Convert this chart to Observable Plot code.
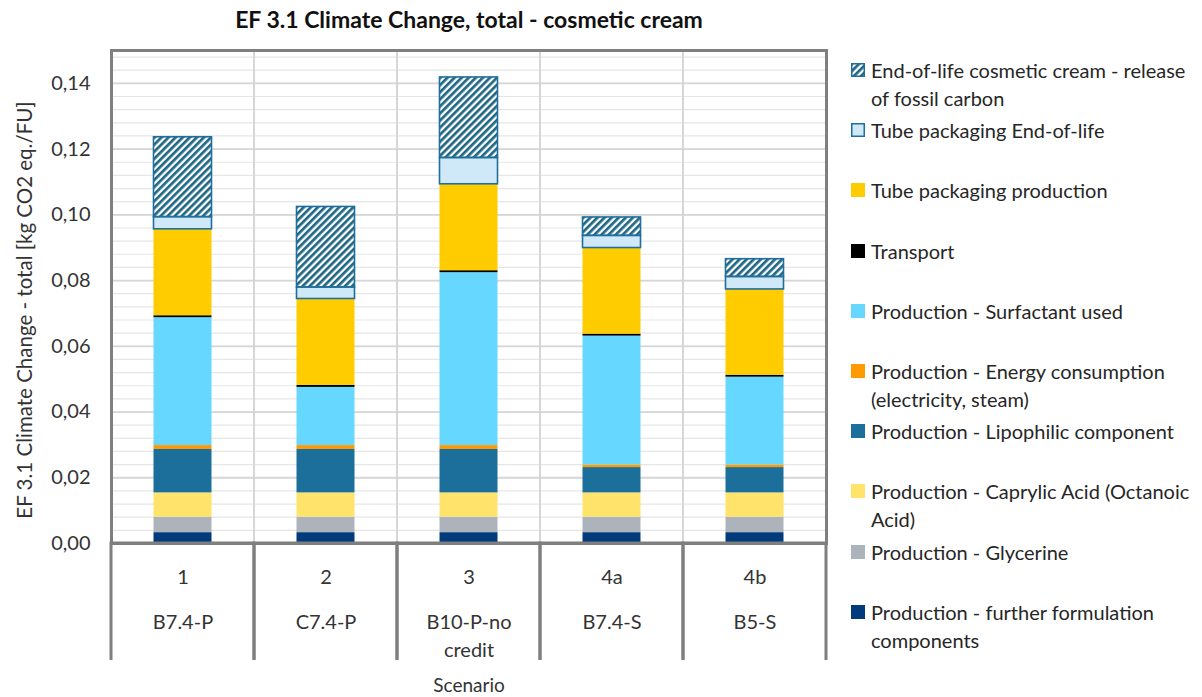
<!DOCTYPE html>
<html>
<head>
<meta charset="utf-8">
<script src="https://cdn.jsdelivr.net/npm/d3@7"></script>
<script src="https://cdn.jsdelivr.net/npm/@observablehq/plot@0.6"></script>
<style>
  body { margin: 0; background: #fff; }
  #wrap { position: relative; width: 1202px; height: 697px; font-family: Lato, "Open Sans", sans-serif; }
  #legend { position: absolute; left: 851px; top: 56px; width: 350px; }
  .item { height: 60.2px; display: flex; align-items: flex-start; }
  .item svg { flex: none; margin-top: 7px; margin-right: 6px; }
  .item span { font-size: 20px; line-height: 28px; color: #262626; white-space: pre; }
</style>
</head>
<body>
<div id="wrap"><div id="chart"></div><div id="legend"></div></div>
<script>
// ---- data ----
const scenarios = ["1", "2", "3", "4a", "4b"];
const scenarioNames = ["B7.4-P", "C7.4-P", "B10-P-no\ncredit", "B7.4-S", "B5-S"];

// stacking order: bottom first
const components = [
  "Production - further formulation components",
  "Production - Glycerine",
  "Production - Caprylic Acid (Octanoic Acid)",
  "Production - Lipophilic component",
  "Production - Energy consumption (electricity, steam)",
  "Production - Surfactant used",
  "Transport",
  "Tube packaging production",
  "Tube packaging End-of-life",
  "End-of-life cosmetic cream - release of fossil carbon"
];
const colors = ["#013b7b", "#adb3bb", "#ffe36b", "#1b6f9a", "#ff9a00", "#66d7ff", "#000000", "#ffcc00", "#cfe9f8", "url(#hatch)"];

const further     = [0.0033, 0.0033, 0.0033, 0.0033, 0.0033];
const glycerine   = [0.0047, 0.0047, 0.0047, 0.0047, 0.0047];
const caprylic    = [0.0074, 0.0074, 0.0074, 0.0074, 0.0074];
const lipophilic  = [0.0132, 0.0132, 0.0132, 0.0077, 0.0077];
const energy      = [0.0012, 0.0012, 0.0012, 0.0008, 0.0008];
const surfactant  = [0.0389, 0.0177, 0.0526, 0.0392, 0.0267];
const transport   = [0.0006, 0.0006, 0.0006, 0.0006, 0.0006];
const tubeProd    = [0.0263, 0.0263, 0.0263, 0.0262, 0.0261];
const tubeEol     = [0.0037, 0.0035, 0.0080, 0.0037, 0.0038];
const creamEol    = [0.0243, 0.0245, 0.0245, 0.0056, 0.0054];
const series = [further, glycerine, caprylic, lipophilic, energy, surfactant, transport, tubeProd, tubeEol, creamEol];

// legend (top first)
const legendLabels = [
  "End-of-life cosmetic cream - release\nof fossil carbon",
  "Tube packaging End-of-life",
  "Tube packaging production",
  "Transport",
  "Production - Surfactant used",
  "Production - Energy consumption\n(electricity, steam)",
  "Production - Lipophilic component",
  "Production - Caprylic Acid (Octanoic\nAcid)",
  "Production - Glycerine",
  "Production - further formulation\ncomponents"
];

const yTicks = [0, 0.02, 0.04, 0.06, 0.08, 0.10, 0.12, 0.14];
const title = "EF 3.1 Climate Change, total - cosmetic cream";
const yLabel = "EF 3.1 Climate Change - total [kg CO2 eq./FU]";
const xLabel = "Scenario";

// ---- build ----
const data = [];
components.forEach((c, j) => scenarios.forEach((s, i) => data.push({scenario: s, component: c, value: series[j][i]})));
const outlined = new Set([components[8], components[9]]);
const minorGrid = d3.range(0.004, 0.1495, 0.004);
const fmt = v => d3.format(".2f")(v).replace(".", ",");

const defs = () => {
  const g = d3.create("svg:g");
  const p = g.append("defs").append("pattern")
    .attr("id", "hatch").attr("patternUnits", "userSpaceOnUse")
    .attr("width", 5).attr("height", 5).attr("patternTransform", "rotate(45)");
  p.append("rect").attr("width", 5).attr("height", 5).attr("fill", "#ffffff");
  p.append("rect").attr("width", 2.7).attr("height", 5).attr("fill", "#1f6786");
  return g.node();
};

const chart = Plot.plot({
  width: 1202,
  height: 697,
  marginLeft: 111,
  marginRight: 376,
  marginTop: 50,
  marginBottom: 154,
  style: {fontFamily: "Lato, 'Open Sans', sans-serif", fontSize: "20px", color: "#333", background: "#fff"},
  x: {domain: scenarios, padding: 0, axis: null},
  y: {domain: [0, 0.15], axis: null},
  color: {domain: components, range: colors},
  marks: [
    defs,
    Plot.ruleY(minorGrid, {stroke: "#e6e6e6", strokeWidth: 1.2}),
    Plot.ruleY(yTicks, {stroke: "#d6d6d6", strokeWidth: 1.8}),
    Plot.barY(scenarios, {x: d => d, y1: 0, y2: 0.15, fill: "none", stroke: "#d4d4d4", strokeWidth: 1.5}),
    Plot.barY(data, Plot.stackY({x: "scenario", y: "value", z: "component", fill: "component", insetLeft: 42.5, insetRight: 42.5})),
    Plot.barY(data, Plot.stackY({x: "scenario", y: "value", z: "component", fill: "none", stroke: "#1f6e9c",
      strokeWidth: d => outlined.has(d.component) ? 1.6 : 0, insetLeft: 42.5, insetRight: 42.5})),
    Plot.frame({stroke: "#7f7f7f", strokeWidth: 3}),
    Plot.barY(scenarios, {x: d => d, y1: 0, y2: 0, insetBottom: -117, fill: "none", stroke: "#7f7f7f", strokeWidth: 3, strokeDasharray: "260,143,117"}),
    Plot.axisY({ticks: yTicks, tickFormat: fmt, tickSize: 0, tickPadding: 21, label: null, fontSize: 20, fill: "#333"}),
    Plot.text(scenarios, {x: d => d, frameAnchor: "bottom", lineAnchor: "middle", text: d => d, dy: 34, fontSize: 20, fill: "#333"}),
    Plot.text(scenarios, {x: d => d, frameAnchor: "bottom", lineAnchor: "top", text: (d, i) => scenarioNames[i], dy: 66, lineHeight: 1.4, fontSize: 20, fill: "#333"}),
    Plot.text([title], {frameAnchor: "top", lineAnchor: "middle", text: d => d, dy: -30, fontSize: 23, fontWeight: "bold", fill: "#111"}),
    Plot.text([xLabel], {frameAnchor: "bottom", lineAnchor: "middle", text: d => d, dy: 142, fontSize: 19, fill: "#333"}),
    Plot.text([yLabel], {frameAnchor: "left", textAnchor: "middle", lineAnchor: "middle", text: d => d, dx: -86, dy: 13, rotate: -90, fontSize: 20.5, fill: "#333"})
  ]
});
document.getElementById("chart").appendChild(chart);

// ---- legend ----
const legend = d3.select("#legend");
legendLabels.forEach((lab, k) => {
  const j = components.length - 1 - k;
  const item = legend.append("div").attr("class", "item");
  const sw = item.append("svg").attr("width", 14).attr("height", 14);
  const outline = outlined.has(components[j]);
  sw.append("rect").attr("x", outline ? 0.75 : 0).attr("y", outline ? 0.75 : 0)
    .attr("width", outline ? 12.5 : 14).attr("height", outline ? 12.5 : 14)
    .attr("fill", colors[j]).attr("stroke", outline ? "#1f6e9c" : "none").attr("stroke-width", 1.5);
  item.append("span").text(lab);
});
</script>
</body>
</html>
